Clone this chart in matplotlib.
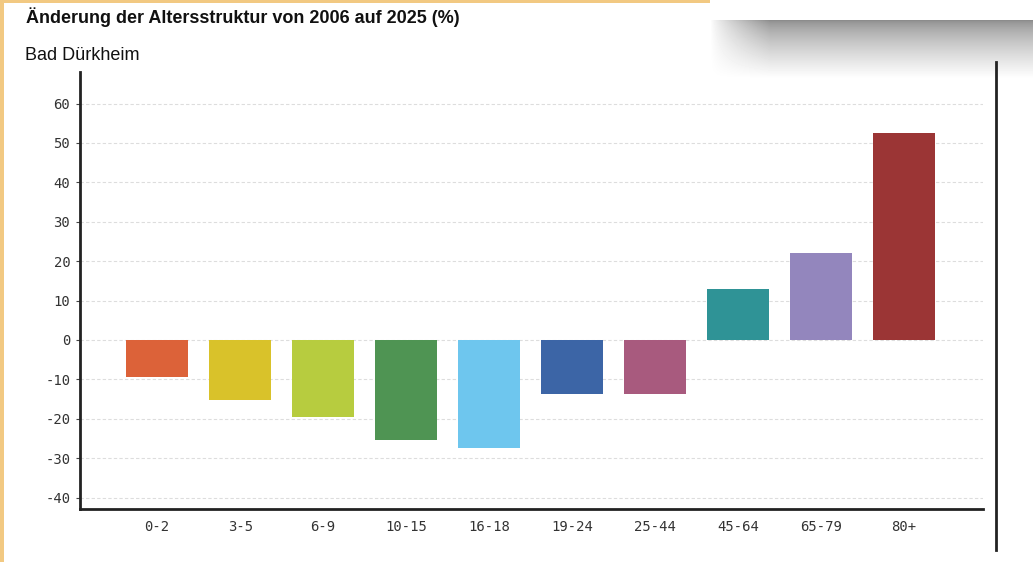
import numpy as np
import matplotlib.pyplot as plt
from matplotlib.lines import Line2D
from matplotlib.patches import Rectangle

W, H = 1033, 562

# data
age_groups = ["0-2", "3-5", "6-9", "10-15", "16-18", "19-24", "25-44", "45-64", "65-79", "80+"]
change_pct = [-9.4, -15.3, -19.6, -25.5, -27.3, -13.6, -13.8, 12.9, 22.1, 52.6]
bar_colors = ["#dc6239", "#d9c22a", "#b7cc3f", "#4f9453", "#6ec6ee",
              "#3c65a6", "#a85a7e", "#2f9396", "#9386bd", "#9b3535"]
y_ticks = [-40, -30, -20, -10, 0, 10, 20, 30, 40, 50, 60]

fig = plt.figure(figsize=(W / 100, H / 100), dpi=100)
fig.patch.set_facecolor("white")


def fx(px):
    return px / W


def fy(py):
    return 1 - py / H


# orange frame strips on left and top
fig.patches.append(Rectangle((0, 0), fx(4), 1, transform=fig.transFigure,
                             facecolor="#f2c982", edgecolor="none", zorder=0))
fig.patches.append(Rectangle((0, fy(3)), fx(710), fy(0) - fy(3), transform=fig.transFigure,
                             facecolor="#f2c982", edgecolor="none", zorder=0))

# grey shadow box top right
sh = fig.add_axes([fx(705), fy(78), fx(W - 705), fy(0) - fy(78)])
sh.axis("off")
rows, cols = 78, W - 705
yy = np.arange(rows)[:, None]
xx = np.arange(cols)[None, :]
vert = np.clip((yy - 20) / 58.0, 0, 1)
shade = 0.55 + 0.45 * vert ** 0.7
horiz = np.clip((xx - 5) / 60.0, 0, 1) ** 0.8
shade = 1 - (1 - shade) * horiz
img = np.where(yy < 20, 1.0, shade)
sh.imshow(img, cmap="gray", vmin=0, vmax=1, aspect="auto", interpolation="bilinear")

# titles
fig.text(fx(26), fy(17), "Änderung der Altersstruktur von 2006 auf 2025 (%)",
         fontsize=13, fontweight="bold", family="Liberation Sans",
         ha="left", va="center", color="#111111")
fig.text(fx(25), fy(55), "Bad Dürkheim", fontsize=13, family="Liberation Sans",
         ha="left", va="center", color="#111111")

# main axes
ax = fig.add_axes([fx(80), fy(509), fx(983) - fx(80), fy(72) - fy(509)])
ax.set_facecolor("none")
x = np.arange(len(age_groups))
ax.bar(x, change_pct, width=0.75, color=bar_colors, zorder=3)

ax.set_xlim(-0.93, 9.95)
ax.set_ylim(-42.9, 68)
ax.set_yticks(y_ticks)
ax.set_yticklabels([str(v) for v in y_ticks])
ax.set_xticks(x)
ax.set_xticklabels(age_groups)
ax.yaxis.grid(True, linestyle=(0, (3, 2)), color="#dddddd", linewidth=0.8, zorder=0)
ax.tick_params(axis="y", length=3, width=0.8, colors="#444444", labelsize=10,
               labelcolor="#333333", pad=4)
ax.tick_params(axis="x", length=0, pad=8, labelsize=10, labelcolor="#333333")
for lbl in ax.get_xticklabels() + ax.get_yticklabels():
    lbl.set_family("DejaVu Sans Mono")
for s in ["top", "right"]:
    ax.spines[s].set_visible(False)
for s in ["left", "bottom"]:
    ax.spines[s].set_linewidth(2)
    ax.spines[s].set_color("#222222")

# right vertical line
fig.add_artist(Line2D([fx(996), fx(996)], [fy(62), fy(550)], transform=fig.transFigure,
                      color="#222222", linewidth=2))

fig.savefig("out.png", dpi=100)
